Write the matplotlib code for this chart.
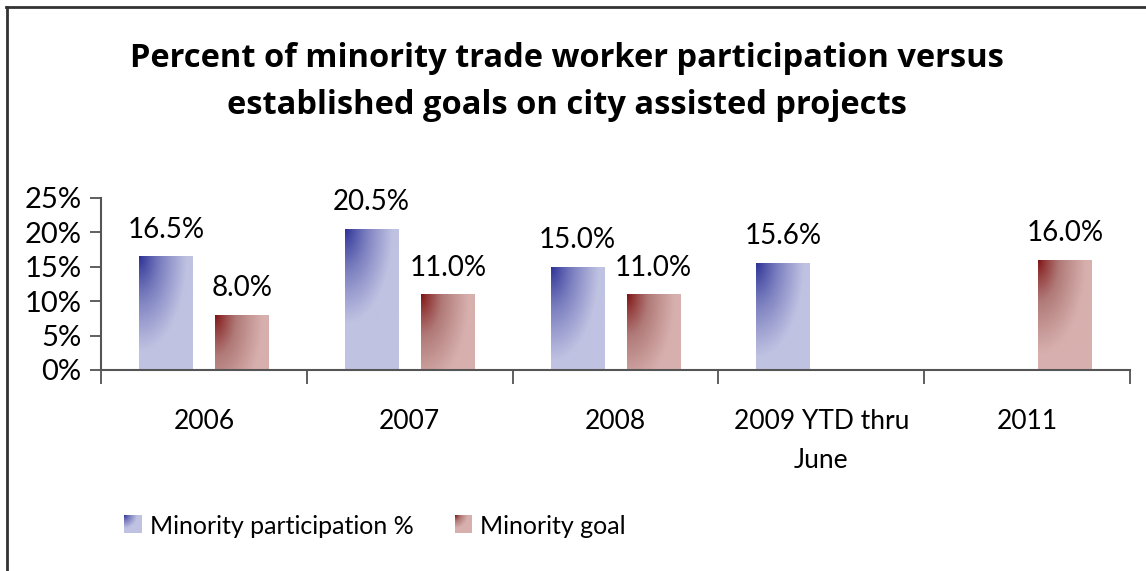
import numpy as np
import matplotlib.pyplot as plt
from matplotlib.colors import LinearSegmentedColormap
from matplotlib.lines import Line2D

plt.rcParams['font.family'] = ['Lato', 'DejaVu Sans']

categories = ["2006", "2007", "2008", "2009 YTD thru\nJune", "2011"]
participation = [16.5, 20.5, 15.0, 15.6, None]
goal = [8.0, 11.0, 11.0, None, 16.0]
series_names = ["Minority participation %", "Minority goal"]
yticks = [0, 5, 10, 15, 20, 25]

blue_cm = LinearSegmentedColormap.from_list("bl", ["#2a2e94", "#7b7fbf", "#c0c2e2"])
red_cm = LinearSegmentedColormap.from_list("rd", ["#7e1010", "#b07a78", "#d7b0ae"])

W, H, DPI = 11.46, 5.71, 100
fig = plt.figure(figsize=(W, H), dpi=DPI)
ax = fig.add_axes([101/1146, 1-370/571, (1130-101)/1146, 172/571])

x = np.arange(len(categories))
bw = 0.26
off = 0.185
# pixel scales used for the corner gradient
px_x = 206.0
px_y = 172.0 / 25


def corner_gradient(w_px, h_px, n=100, sx=48.0, sy=95.0):
    u = np.linspace(0, w_px, n)[None, :]
    v = np.linspace(0, h_px, n)[:, None]
    d = np.sqrt((u/sx)**2 + (v/sy)**2)
    return np.clip(d, 0, 1)**0.85


def grad_bar(ax, xc, val, cmap):
    bars = ax.bar(xc, val, bw, color='none', edgecolor='none')
    p = bars[0]
    g = corner_gradient(bw*px_x, val*px_y)
    im = ax.imshow(g, cmap=cmap, vmin=0, vmax=1, aspect='auto',
                   extent=[xc-bw/2, xc+bw/2, 0, val], origin='upper',
                   interpolation='bilinear', zorder=2)
    im.set_clip_path(p)


lab_kw = dict(ha='center', va='bottom', fontsize=20, color='black')
for i in range(len(categories)):
    if participation[i] is not None:
        grad_bar(ax, x[i]-off, participation[i], blue_cm)
        ax.text(x[i]-off, participation[i]+2.0, "%.1f%%" % participation[i], **lab_kw)
    if goal[i] is not None:
        grad_bar(ax, x[i]+off, goal[i], red_cm)
        ax.text(x[i]+off, goal[i]+2.0, "%.1f%%" % goal[i], **lab_kw)

ax.set_xlim(-0.5, len(categories)-0.5)
ax.set_ylim(0, 25)
ax.set_yticks(yticks)
ax.set_yticklabels(["%d%%" % t for t in yticks], fontsize=21)
ax.set_xticks(np.arange(len(categories)+1)-0.5)
ax.set_xticklabels([])
ax.tick_params(axis='x', length=10, width=1.2, color='#444444')
ax.tick_params(axis='y', length=8, width=1.2, color='#444444', pad=6)
for s in ['top', 'right']:
    ax.spines[s].set_visible(False)
for s in ['left', 'bottom']:
    ax.spines[s].set_color('#555555')
    ax.spines[s].set_linewidth(1.5)
for i, c in enumerate(categories):
    ax.text(x[i], -5.6, c, ha='center', va='top', fontsize=19,
            linespacing=1.7, transform=ax.transData)

fig.text(567/1146, 1-82/571,
         "Percent of minority trade worker participation versus\nestablished goals on city assisted projects",
         ha='center', va='center', fontsize=23.5, fontweight='bold', linespacing=1.55,
         family=['Open Sans', 'DejaVu Sans'])

# legend squares with the same gradient
for (x0, w0, name, cmap) in [(124, 18, series_names[0], blue_cm), (455, 17, series_names[1], red_cm)]:
    lax = fig.add_axes([x0/1146, 1-533/571, w0/1146, 18/571])
    lax.imshow(corner_gradient(40, 40, sx=30, sy=30), cmap=cmap, vmin=0, vmax=1,
               aspect='auto', interpolation='bilinear')
    lax.set_axis_off()
    fig.text((x0+w0+8)/1146, 1-527/571, name, ha='left', va='center', fontsize=18)

# frame around the chart
fig.add_artist(Line2D([6/1146, 1], [1-7/571, 1-7/571], color='#333333', lw=2))
fig.add_artist(Line2D([7/1146, 7/1146], [0, 1-7/571], color='#333333', lw=2))

fig.savefig("out.png", dpi=DPI)
